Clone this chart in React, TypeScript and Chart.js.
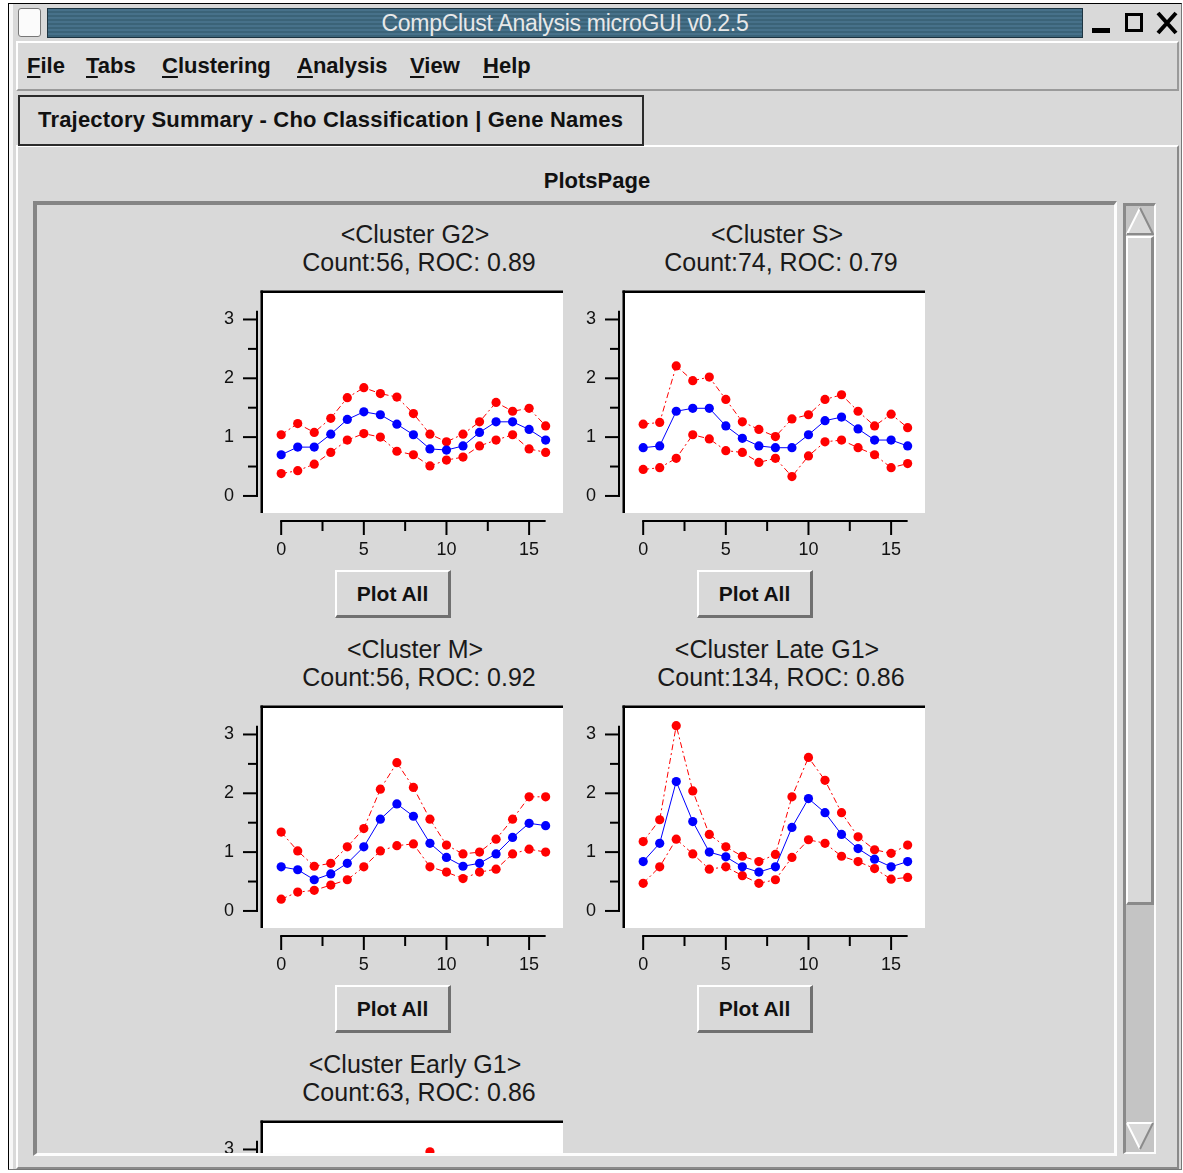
import React, { useEffect, useRef } from 'react';
import { Chart, registerables } from 'chart.js';

Chart.register(...registerables);

// ---------- data ----------
const TIME_POINTS = [0, 1, 2, 3, 4, 5, 6, 7, 8, 9, 10, 11, 12, 13, 14, 15, 16];

const G2_UPPER = [1.04, 1.23, 1.08, 1.32, 1.67, 1.84, 1.74, 1.68, 1.4, 1.05, 0.92, 1.05, 1.26, 1.59, 1.44, 1.49, 1.19];
const G2_MEAN = [0.7, 0.83, 0.83, 1.05, 1.3, 1.43, 1.38, 1.22, 1.04, 0.8, 0.78, 0.85, 1.08, 1.26, 1.26, 1.13, 0.95];
const G2_LOWER = [0.38, 0.43, 0.54, 0.74, 0.95, 1.06, 1.0, 0.76, 0.7, 0.51, 0.61, 0.66, 0.85, 0.95, 1.04, 0.8, 0.74];

const S_UPPER = [1.22, 1.25, 2.21, 1.96, 2.02, 1.64, 1.26, 1.13, 1.01, 1.31, 1.38, 1.64, 1.72, 1.44, 1.19, 1.39, 1.16];
const S_MEAN = [0.82, 0.85, 1.44, 1.49, 1.49, 1.19, 0.98, 0.85, 0.82, 0.82, 1.04, 1.28, 1.34, 1.14, 0.95, 0.95, 0.85];
const S_LOWER = [0.45, 0.48, 0.64, 1.04, 0.97, 0.77, 0.74, 0.57, 0.64, 0.33, 0.68, 0.92, 0.95, 0.82, 0.7, 0.48, 0.55];

const M_UPPER = [1.34, 1.02, 0.76, 0.81, 1.09, 1.4, 2.07, 2.52, 2.1, 1.56, 1.12, 0.97, 1.0, 1.22, 1.56, 1.94, 1.94];
const M_MEAN = [0.75, 0.7, 0.53, 0.63, 0.81, 1.09, 1.56, 1.82, 1.61, 1.15, 0.91, 0.76, 0.81, 0.97, 1.25, 1.49, 1.45];
const M_LOWER = [0.2, 0.32, 0.35, 0.44, 0.53, 0.75, 1.02, 1.11, 1.14, 0.75, 0.66, 0.55, 0.66, 0.71, 0.97, 1.05, 1.0];

const LATE_UPPER = [1.18, 1.55, 3.15, 2.04, 1.3, 1.09, 0.93, 0.84, 0.96, 1.94, 2.61, 2.22, 1.67, 1.26, 1.04, 0.98, 1.12];
const LATE_MEAN = [0.84, 1.15, 2.2, 1.52, 1.0, 0.92, 0.75, 0.66, 0.75, 1.42, 1.91, 1.67, 1.3, 1.06, 0.88, 0.75, 0.84];
const LATE_LOWER = [0.47, 0.75, 1.22, 0.97, 0.71, 0.75, 0.6, 0.47, 0.53, 0.91, 1.21, 1.15, 0.93, 0.84, 0.72, 0.54, 0.57];

const EARLY_UPPER = [1.1, 0.95, 0.85, 0.9, 1.05, 1.3, 1.55, 1.9, 2.45, 2.96, 2.5, 1.85, 1.4, 1.15, 1.05, 1.2, 1.35];
const EARLY_MEAN = [0.8, 0.7, 0.62, 0.66, 0.78, 0.95, 1.15, 1.45, 1.85, 2.2, 1.85, 1.4, 1.05, 0.88, 0.8, 0.9, 1.0];
const EARLY_LOWER = [0.5, 0.45, 0.4, 0.42, 0.5, 0.62, 0.78, 1.0, 1.25, 1.45, 1.2, 0.95, 0.7, 0.6, 0.55, 0.62, 0.68];

const CLUSTER_NAMES = ['G2', 'S', 'M', 'Late G1', 'Early G1'];
const CLUSTER_COUNTS = [56, 74, 56, 134, 63];
const CLUSTER_ROCS = ['0.89', '0.79', '0.92', '0.86', '0.86'];

const X_MAJOR_TICKS = [0, 5, 10, 15];
const X_MINOR_TICKS = [2.5, 7.5, 12.5];
const Y_MAJOR_TICKS = [0, 1, 2, 3];
const Y_MINOR_TICKS = [0.5, 1.5, 2.5];
const X_AXIS_RANGE = [0, 16];
const Y_AXIS_RANGE = [0, 3.15];
const X_VIEW = [-1.1, 17.05];
const Y_VIEW = [-0.29, 3.45];

const MENU_ITEMS = ['File', 'Tabs', 'Clustering', 'Analysis', 'View', 'Help'];

// ---------- style ----------
const FONT = '"Liberation Sans", Arial, Helvetica, sans-serif';
const RED = '#ff0000';
const BLUE = '#0000ff';
const GRAY = '#d9d9d9';

const detachedAxes = {
  id: 'detachedAxes',
  beforeDraw(chart: any) {
    const { ctx, chartArea: a } = chart;
    ctx.save();
    ctx.fillStyle = '#ffffff';
    ctx.fillRect(a.left, a.top, a.right - a.left, a.bottom - a.top);
    ctx.fillStyle = '#000000';
    ctx.fillRect(a.left - 2.5, a.top - 2.5, a.right - a.left + 2.5, 2.5);
    ctx.fillRect(a.left - 2.5, a.top - 2.5, 2.5, a.bottom - a.top + 2.5);
    ctx.restore();
  },
  afterDraw(chart: any) {
    const { ctx, chartArea: a, scales } = chart;
    const xs = scales.x;
    const ys = scales.y;
    const line = (x1: number, y1: number, x2: number, y2: number) => {
      ctx.beginPath();
      ctx.moveTo(x1, y1);
      ctx.lineTo(x2, y2);
      ctx.stroke();
    };
    ctx.save();
    ctx.strokeStyle = '#000000';
    ctx.lineWidth = 2;
    const ax = a.left - 6;
    line(ax, ys.getPixelForValue(Y_AXIS_RANGE[0]) + 1, ax, ys.getPixelForValue(Y_AXIS_RANGE[1]));
    Y_MAJOR_TICKS.forEach((v) => {
      const p = ys.getPixelForValue(v);
      line(ax - 14, p, ax, p);
    });
    Y_MINOR_TICKS.forEach((v) => {
      const p = ys.getPixelForValue(v);
      line(ax - 9, p, ax, p);
    });
    const ay = a.bottom + 8;
    line(xs.getPixelForValue(X_AXIS_RANGE[0]) - 1, ay, xs.getPixelForValue(X_AXIS_RANGE[1]), ay);
    X_MAJOR_TICKS.forEach((v) => {
      const p = xs.getPixelForValue(v);
      line(p, ay, p, ay + 14);
    });
    X_MINOR_TICKS.forEach((v) => {
      const p = xs.getPixelForValue(v);
      line(p, ay, p, ay + 10);
    });
    ctx.restore();
  },
};

function series(values: number[], color: string, dashed: boolean, order: number) {
  return {
    data: TIME_POINTS.map((t, i) => ({ x: t, y: values[i] })),
    borderColor: color,
    backgroundColor: color,
    pointBackgroundColor: color,
    pointBorderWidth: 0,
    pointRadius: 4.6,
    borderWidth: 1,
    borderDash: dashed ? [6, 3, 2, 3] : [],
    tension: 0,
    order,
  };
}

type PlotProps = {
  cx: number;
  cy: number;
  idx: number;
  upper: number[];
  mean: number[];
  lower: number[];
};

function ClusterPlot({ cx, cy, idx, upper, mean, lower }: PlotProps) {
  const ref = useRef<HTMLCanvasElement>(null);
  useEffect(() => {
    const chart = new Chart(ref.current as HTMLCanvasElement, {
      type: 'line',
      data: {
        datasets: [series(mean, BLUE, false, 0), series(upper, RED, true, 1), series(lower, RED, true, 1)] as any,
      },
      options: {
        responsive: false,
        animation: false,
        events: [],
        layout: { padding: { left: 0, top: 8, right: 10, bottom: 0 } },
        plugins: { legend: { display: false }, tooltip: { enabled: false } },
        scales: {
          x: {
            type: 'linear',
            min: X_VIEW[0],
            max: X_VIEW[1],
            grid: { display: false, drawTicks: false },
            border: { display: false },
            afterBuildTicks: (s: any) => {
              s.ticks = X_MAJOR_TICKS.map((v) => ({ value: v }));
            },
            afterFit: (s: any) => {
              s.height = 52;
              s.paddingLeft = 0;
              s.paddingRight = 0;
            },
            ticks: { padding: 26, color: '#111', autoSkip: false, maxRotation: 0, font: { family: FONT, size: 18 } },
          },
          y: {
            type: 'linear',
            min: Y_VIEW[0],
            max: Y_VIEW[1],
            grid: { display: false, drawTicks: false },
            border: { display: false },
            afterBuildTicks: (s: any) => {
              s.ticks = Y_MAJOR_TICKS.map((v) => ({ value: v }));
            },
            afterFit: (s: any) => {
              s.width = 50;
              s.paddingTop = 0;
              s.paddingBottom = 0;
            },
            ticks: { padding: 29, color: '#111', autoSkip: false, font: { family: FONT, size: 18 } },
          },
        },
      } as any,
      plugins: [detachedAxes],
    });
    return () => chart.destroy();
  }, []);

  const titleStyle: React.CSSProperties = {
    position: 'absolute',
    left: cx + 2,
    width: 400,
    textAlign: 'center',
    fontFamily: FONT,
    fontSize: 25,
    lineHeight: '28px',
    color: '#1a1a1a',
    whiteSpace: 'nowrap',
  };
  return (
    <>
      <div style={{ ...titleStyle, top: cy - 65 }}>{`<Cluster ${CLUSTER_NAMES[idx]}>`}</div>
      <div style={{ ...titleStyle, left: cx + 6, top: cy - 37 }}>{`Count:${CLUSTER_COUNTS[idx]}, ROC: ${CLUSTER_ROCS[idx]}`}</div>
      <canvas ref={ref} width={360} height={280} style={{ position: 'absolute', left: cx, top: cy, width: 360, height: 280 }} />
      <div
        style={{
          position: 'absolute',
          left: cx + 122,
          top: cy + 285,
          width: 116,
          height: 48,
          boxSizing: 'border-box',
          background: GRAY,
          borderTop: '2px solid #ffffff',
          borderLeft: '2px solid #ffffff',
          borderRight: '3px solid #707070',
          borderBottom: '3px solid #707070',
          fontFamily: FONT,
          fontWeight: 'bold',
          fontSize: 21,
          lineHeight: '43px',
          textAlign: 'center',
          color: '#111',
        }}
      >
        Plot All
      </div>
    </>
  );
}

const abs = (s: React.CSSProperties): React.CSSProperties => ({ position: 'absolute', boxSizing: 'border-box', ...s });

export default function App() {
  const menuX = [27, 86, 162, 297, 410, 483];
  const VX = 37;
  const VY = 205;
  return (
    <div style={abs({ left: 0, top: 0, width: 1183, height: 1173, background: '#ffffff', overflow: 'hidden', fontFamily: FONT, position: 'fixed' })}>
      {/* window */}
      <div style={abs({ left: 8, top: 3, width: 1174, height: 1167, background: GRAY, borderLeft: '1px solid #000', borderTop: '1px solid #000', borderRight: '1px solid #777', borderBottom: '1px solid #777' })} />
      <div style={abs({ left: 9, top: 4, width: 4, height: 1165, background: '#f7f7f7' })} />
      {/* title bar */}
      <div style={abs({ left: 18, top: 8, width: 23, height: 29, background: '#fbfbfb', border: '1px solid #777', borderRadius: 3 })} />
      <div
        style={abs({
          left: 47,
          top: 8,
          width: 1036,
          height: 30,
          border: '1px solid #1d3441',
          background: 'repeating-linear-gradient(180deg, #47718a 0px, #47718a 2px, #3b6378 2px, #3b6378 4px)',
          color: '#e8e8e8',
          fontSize: 23,
          lineHeight: '28px',
          textAlign: 'center',
          letterSpacing: -0.3,
        })}
      >
        CompClust Analysis microGUI v0.2.5
      </div>
      <svg style={{ position: 'absolute', left: 1088, top: 8, width: 95, height: 30 }} viewBox="0 0 95 30">
        <rect x={4} y={20} width={18} height={5} fill="#000" />
        <rect x={38.5} y={6.5} width={15} height={16} fill="none" stroke="#000" strokeWidth={3} />
        <path d="M70 5 L88 25 M88 5 L70 25" stroke="#000" strokeWidth={4} />
      </svg>
      {/* menu bar */}
      <div style={abs({ left: 16, top: 41, width: 1163, height: 50, borderTop: '2px solid #fff', borderLeft: '2px solid #fff', borderBottom: '2px solid #9a9a9a', borderRight: '2px solid #9a9a9a' })} />
      {MENU_ITEMS.map((m, i) => (
        <div key={m} style={abs({ left: menuX[i], top: 53, fontWeight: 'bold', fontSize: 22, lineHeight: '26px', color: '#111', whiteSpace: 'nowrap' })}>
          <span style={{ textDecoration: 'underline', textDecorationThickness: 2, textUnderlineOffset: 3 }}>{m[0]}</span>
          {m.slice(1)}
        </div>
      ))}
      {/* panel */}
      <div style={abs({ left: 16, top: 145, width: 1163, height: 1024, borderTop: '2px solid #fff', borderLeft: '2px solid #fff', borderRight: '2px solid #8a8a8a', borderBottom: '2px solid #8a8a8a' })} />
      {/* tab */}
      <div
        style={abs({
          left: 18,
          top: 95,
          width: 626,
          height: 51,
          background: GRAY,
          border: '2px solid #2b2b2b',
          fontWeight: 'bold',
          fontSize: 22,
          lineHeight: '45px',
          paddingLeft: 18,
          color: '#111',
          whiteSpace: 'nowrap',
          letterSpacing: 0.2,
        })}
      >
        Trajectory Summary - Cho Classification | Gene Names
      </div>
      <div style={abs({ left: 397, top: 167, width: 400, textAlign: 'center', fontWeight: 'bold', fontSize: 22, lineHeight: '28px', color: '#111' })}>PlotsPage</div>
      {/* scroll frame */}
      <div style={abs({ left: 33, top: 201, width: 1084, height: 955, borderTop: '4px solid #858585', borderLeft: '4px solid #858585', borderRight: '3px solid #fdfdfd', borderBottom: '3px solid #fdfdfd' })} />
      <div style={abs({ left: VX, top: VY, width: 1077, height: 948, overflow: 'hidden' })}>
        <div style={abs({ left: -VX, top: -VY, width: 1183, height: 1400 })}>
          <ClusterPlot cx={213} cy={285} idx={0} upper={G2_UPPER} mean={G2_MEAN} lower={G2_LOWER} />
          <ClusterPlot cx={575} cy={285} idx={1} upper={S_UPPER} mean={S_MEAN} lower={S_LOWER} />
          <ClusterPlot cx={213} cy={700} idx={2} upper={M_UPPER} mean={M_MEAN} lower={M_LOWER} />
          <ClusterPlot cx={575} cy={700} idx={3} upper={LATE_UPPER} mean={LATE_MEAN} lower={LATE_LOWER} />
          <ClusterPlot cx={213} cy={1115} idx={4} upper={EARLY_UPPER} mean={EARLY_MEAN} lower={EARLY_LOWER} />
        </div>
      </div>
      {/* scrollbar */}
      <div style={abs({ left: 1123, top: 203, width: 33, height: 951, background: '#c4c4c4', borderTop: '3px solid #8a8a8a', borderLeft: '3px solid #8a8a8a', borderRight: '2px solid #fdfdfd', borderBottom: '2px solid #fdfdfd' })} />
      <svg style={{ position: 'absolute', left: 1126, top: 206, width: 28, height: 30 }} viewBox="0 0 28 30">
        <polygon points="14,2 1,28 27,28" fill="#d9d9d9" />
        <path d="M14 2 L1 28" stroke="#fff" strokeWidth={2} />
        <path d="M14 2 L27 28 L1 28" stroke="#8a8a8a" strokeWidth={2} fill="none" />
      </svg>
      <div style={abs({ left: 1126, top: 236, width: 28, height: 669, background: GRAY, borderTop: '2px solid #fff', borderLeft: '2px solid #fff', borderRight: '3px solid #8a8a8a', borderBottom: '3px solid #8a8a8a' })} />
      <svg style={{ position: 'absolute', left: 1126, top: 1121, width: 28, height: 30 }} viewBox="0 0 28 30">
        <polygon points="1,2 27,2 14,28" fill="#d9d9d9" />
        <path d="M1 2 L27 2 M1 2 L14 28" stroke="#fff" strokeWidth={2} />
        <path d="M27 2 L14 28" stroke="#8a8a8a" strokeWidth={2} />
      </svg>
    </div>
  );
}
